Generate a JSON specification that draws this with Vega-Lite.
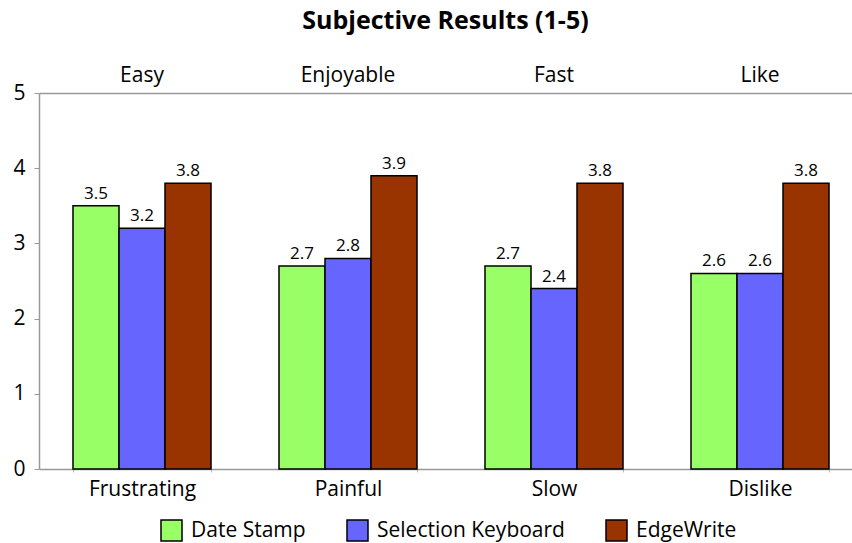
{
  "$schema": "https://vega.github.io/schema/vega-lite/v6.json",
  "width": 813,
  "height": 376,
  "autosize": {"type": "none"},
  "padding": {"left": 39, "top": 93, "right": 0, "bottom": 74},
  "background": "white",
  "title": {
    "text": "Subjective Results (1-5)",
    "fontSize": 25,
    "fontWeight": "bold",
    "font": "Open Sans",
    "color": "black",
    "anchor": "middle",
    "offset": 30
  },
  "data": {
    "values": [
      {"low": "Frustrating", "high": "Easy", "series": "Date Stamp", "value": 3.5},
      {"low": "Frustrating", "high": "Easy", "series": "Selection Keyboard", "value": 3.2},
      {"low": "Frustrating", "high": "Easy", "series": "EdgeWrite", "value": 3.8},
      {"low": "Painful", "high": "Enjoyable", "series": "Date Stamp", "value": 2.7},
      {"low": "Painful", "high": "Enjoyable", "series": "Selection Keyboard", "value": 2.8},
      {"low": "Painful", "high": "Enjoyable", "series": "EdgeWrite", "value": 3.9},
      {"low": "Slow", "high": "Fast", "series": "Date Stamp", "value": 2.7},
      {"low": "Slow", "high": "Fast", "series": "Selection Keyboard", "value": 2.4},
      {"low": "Slow", "high": "Fast", "series": "EdgeWrite", "value": 3.8},
      {"low": "Dislike", "high": "Like", "series": "Date Stamp", "value": 2.6},
      {"low": "Dislike", "high": "Like", "series": "Selection Keyboard", "value": 2.6},
      {"low": "Dislike", "high": "Like", "series": "EdgeWrite", "value": 3.8}
    ]
  },
  "layer": [
    {
      "mark": {"type": "bar", "stroke": "black", "strokeWidth": 1.5},
      "encoding": {
        "x": {
          "field": "low",
          "type": "nominal",
          "sort": ["Frustrating", "Painful", "Slow", "Dislike"],
          "scale": {"range": [0, 824], "paddingInner": 0.33, "paddingOuter": 0.165},
          "axis": {
            "title": null,
            "orient": "bottom",
            "labelAngle": 0,
            "labelFontSize": 21,
            "labelColor": "black",
            "labelPadding": 6,
            "domainColor": "#999999",
            "domainWidth": 1.5,
            "tickBand": "extent",
            "tickColor": "#bbbbbb",
            "tickSize": 3
          }
        },
        "xOffset": {
          "field": "series",
          "type": "nominal",
          "sort": ["Date Stamp", "Selection Keyboard", "EdgeWrite"],
          "scale": {"paddingInner": 0, "paddingOuter": 0}
        },
        "y": {
          "field": "value",
          "type": "quantitative",
          "scale": {"domain": [0, 5], "nice": false},
          "axis": {
            "title": null,
            "values": [0, 1, 2, 3, 4, 5],
            "format": "d",
            "grid": false,
            "labelFontSize": 21,
            "labelColor": "black",
            "labelPadding": 9,
            "tickSize": 5,
            "tickColor": "#999999",
            "domainColor": "#999999",
            "domainWidth": 1.5
          }
        },
        "color": {
          "field": "series",
          "type": "nominal",
          "sort": ["Date Stamp", "Selection Keyboard", "EdgeWrite"],
          "scale": {"range": ["#99ff66", "#6666ff", "#993300"]},
          "legend": {
            "title": null,
            "orient": "none",
            "direction": "horizontal",
            "legendX": 121,
            "legendY": 426,
            "symbolType": "square",
            "symbolSize": 441,
            "symbolStrokeColor": "black",
            "symbolStrokeWidth": 1.5,
            "symbolOpacity": 1,
            "labelFontSize": 21,
            "labelLimit": 400,
            "labelColor": "black",
            "labelOffset": 8,
            "columnPadding": 38
          }
        }
      }
    },
    {
      "mark": {"type": "text", "dy": -12, "fontSize": 17, "color": "black"},
      "encoding": {
        "x": {
          "field": "low",
          "type": "nominal",
          "sort": ["Frustrating", "Painful", "Slow", "Dislike"],
          "axis": {
            "title": null,
            "orient": "top",
            "labelAngle": 0,
            "labelFontSize": 21,
            "labelColor": "black",
            "labelPadding": 8,
            "ticks": false,
            "domainColor": "#999999",
            "domainWidth": 1.5,
            "labelExpr": "datum.value == 'Frustrating' ? 'Easy' : datum.value == 'Painful' ? 'Enjoyable' : datum.value == 'Slow' ? 'Fast' : 'Like'"
          }
        },
        "xOffset": {
          "field": "series",
          "type": "nominal",
          "sort": ["Date Stamp", "Selection Keyboard", "EdgeWrite"]
        },
        "y": {"field": "value", "type": "quantitative"},
        "text": {"field": "value", "type": "quantitative", "format": ".1f"}
      }
    }
  ],
  "resolve": {"axis": {"x": "independent"}},
  "config": {
    "font": "Open Sans",
    "view": {"stroke": null},
    "axis": {"labelFont": "Open Sans"},
    "legend": {"labelFont": "Open Sans"}
  }
}
